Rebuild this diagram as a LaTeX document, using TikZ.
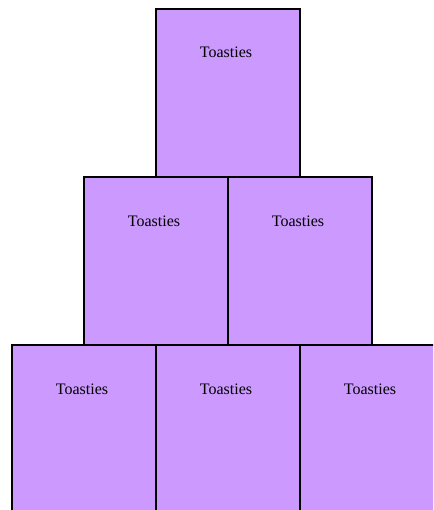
\documentclass[tikz,border=0pt]{standalone}
\usepackage{fontspec}
\setmainfont{Liberation Serif}
\usetikzlibrary{positioning}

\definecolor{toastfill}{HTML}{CC99FF}

\begin{document}
\begin{tikzpicture}[
		x=1pt, y=1pt,
		toastbox/.style={draw=black, line width=2pt, fill=toastfill, minimum width=144pt, minimum height=168pt, inner sep=0pt, outer sep=0pt,
			label={[anchor=base, xshift=-1.5pt, yshift=-49pt, font=\fontsize{16}{19}\selectfont]north:Toasties}}
	]
		\useasboundingbox (0,0) rectangle (433,-510);
		\clip (0,0) rectangle (433,-510);
		% top of the stack
		\node[toastbox, anchor=north] (top) at (227.5,-9) {};
		% middle row
		\node[toastbox, anchor=north east] (midleft) at (top.south) {};
		\node[toastbox, anchor=north west] (midright) at (top.south) {};
		% bottom row
		\node[toastbox, anchor=north east] (botleft) at (midleft.south) {};
		\node[toastbox, anchor=north] (botmid) at (top.south |- midleft.south) {};
		\node[toastbox, anchor=north west] (botright) at (midright.south) {};
	\end{tikzpicture}
\end{document}
